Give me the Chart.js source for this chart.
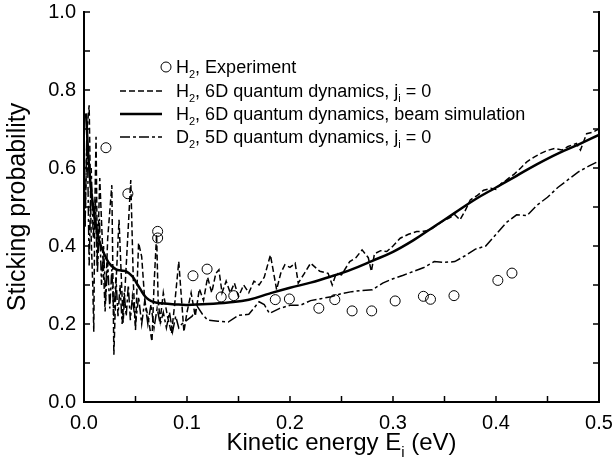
<!DOCTYPE html>
<html>
<head>
<meta charset="utf-8">
<script src="https://cdn.jsdelivr.net/npm/chart.js@4.4.1/dist/chart.umd.min.js"></script>
<style>
  body { margin: 0; background: #fff; }
  canvas { display: block; }
</style>
</head>
<body>
<canvas id="stickChart" width="614" height="463"></canvas>
<script>
// H2, experiment
var expE = [0.0213, 0.0426, 0.0715, 0.0715, 0.1058, 0.1195, 0.1332, 0.1454, 0.1857, 0.1994,
            0.228, 0.2435, 0.2603, 0.2793, 0.3021, 0.3295, 0.3364, 0.3592, 0.4018, 0.4155];
var expP = [0.652, 0.534, 0.4375, 0.4206, 0.3237, 0.3407, 0.2693, 0.2727, 0.2625, 0.2642,
            0.2404, 0.2625, 0.2336, 0.2336, 0.2591, 0.2710, 0.2634, 0.2727, 0.3118, 0.3305];

// H2, 6D quantum dynamics, j=0 (dashed)
var qdE = [0.001, 0.003, 0.005, 0.007, 0.0085, 0.0095, 0.0105, 0.0117, 0.013, 0.0153,
           0.018, 0.0205, 0.023, 0.027, 0.029, 0.031, 0.034, 0.038, 0.041, 0.0454,
           0.048, 0.050, 0.053, 0.056, 0.059, 0.062, 0.066, 0.068, 0.0705, 0.072,
           0.074, 0.077, 0.081, 0.085, 0.088, 0.092, 0.097, 0.1, 0.104, 0.108,
           0.112, 0.116, 0.12, 0.124, 0.128, 0.131, 0.134, 0.138, 0.142, 0.146,
           0.15, 0.155, 0.16, 0.165, 0.17, 0.175, 0.181, 0.187, 0.191, 0.195,
           0.2, 0.205, 0.208, 0.214, 0.22, 0.229, 0.237, 0.241, 0.245, 0.25,
           0.258, 0.264, 0.27, 0.276, 0.279, 0.282, 0.288, 0.294, 0.3, 0.307,
           0.315, 0.323, 0.33, 0.336, 0.343, 0.349, 0.354, 0.36, 0.365, 0.37,
           0.375, 0.382, 0.388, 0.395, 0.4, 0.405, 0.41, 0.418, 0.424, 0.43,
           0.437, 0.443, 0.45, 0.457, 0.464, 0.47, 0.478, 0.482, 0.488, 0.494, 0.5];
var qdP = [0.45, 0.70, 0.761, 0.42, 0.30, 0.18, 0.50, 0.68, 0.35, 0.574,
           0.40, 0.232, 0.42, 0.556, 0.121, 0.30, 0.467, 0.203, 0.35, 0.569,
           0.30, 0.185, 0.408, 0.373, 0.26, 0.22, 0.155, 0.30, 0.43, 0.26,
           0.21, 0.28, 0.22, 0.176, 0.25, 0.36, 0.18, 0.23, 0.28, 0.22,
           0.29, 0.26, 0.32, 0.28, 0.33, 0.339, 0.28, 0.31, 0.28, 0.305,
           0.27, 0.30, 0.28, 0.31, 0.30, 0.32, 0.377, 0.288, 0.33, 0.352,
           0.345, 0.356, 0.305, 0.33, 0.356, 0.335, 0.33, 0.30, 0.33, 0.326,
           0.36, 0.37, 0.39, 0.37, 0.335, 0.38, 0.388, 0.386, 0.40, 0.42,
           0.43, 0.437, 0.438, 0.441, 0.454, 0.465, 0.471, 0.48, 0.467, 0.49,
           0.518, 0.53, 0.543, 0.548, 0.545, 0.56, 0.569, 0.585, 0.60, 0.616,
           0.628, 0.637, 0.645, 0.65, 0.646, 0.655, 0.663, 0.646, 0.688, 0.692, 0.70];

// H2, 6D quantum dynamics, beam simulation (solid)
var beamE = [0.002, 0.005, 0.008, 0.011, 0.014, 0.018, 0.024, 0.031, 0.036, 0.041,
             0.047, 0.051, 0.055, 0.059, 0.063, 0.068, 0.075, 0.09, 0.1, 0.12,
             0.14, 0.16, 0.18, 0.2, 0.22, 0.24, 0.26, 0.28, 0.3, 0.32,
             0.34, 0.36, 0.38, 0.4, 0.42, 0.44, 0.46, 0.48, 0.5];
var beamP = [0.74, 0.60, 0.52, 0.46, 0.42, 0.39, 0.357, 0.34, 0.337, 0.335,
             0.322, 0.305, 0.288, 0.272, 0.262, 0.256, 0.253, 0.25, 0.249, 0.251,
             0.255, 0.262, 0.278, 0.293, 0.306, 0.322, 0.34, 0.362, 0.385, 0.415,
             0.45, 0.485, 0.52, 0.55, 0.58, 0.61, 0.637, 0.66, 0.685];

// D2, 5D quantum dynamics, j=0 (dash-dot)
var d2E = [0.001, 0.003, 0.005, 0.007, 0.009, 0.011, 0.013, 0.015, 0.017, 0.019,
           0.021, 0.023, 0.025, 0.027, 0.029, 0.031, 0.033, 0.035, 0.037, 0.039,
           0.041, 0.043, 0.045, 0.047, 0.05, 0.053, 0.056, 0.059, 0.062, 0.065,
           0.068, 0.071, 0.074, 0.077, 0.08, 0.083, 0.086, 0.089, 0.092, 0.095,
           0.1, 0.105, 0.11, 0.115, 0.12, 0.13, 0.14, 0.15, 0.16, 0.17,
           0.175, 0.18, 0.19, 0.2, 0.21, 0.22, 0.23, 0.24, 0.25, 0.26,
           0.27, 0.28, 0.29, 0.3, 0.31, 0.32, 0.33, 0.34, 0.35, 0.36,
           0.37, 0.38, 0.39, 0.4, 0.41, 0.42, 0.43, 0.44, 0.45, 0.46,
           0.47, 0.48, 0.49, 0.5];
var d2P = [0.45, 0.72, 0.35, 0.60, 0.42, 0.52, 0.33, 0.47, 0.30, 0.40,
           0.26, 0.36, 0.24, 0.34, 0.22, 0.32, 0.22, 0.30, 0.20, 0.28,
           0.22, 0.30, 0.21, 0.27, 0.20, 0.27, 0.20, 0.26, 0.20, 0.25,
           0.19, 0.24, 0.20, 0.23, 0.19, 0.23, 0.18, 0.22, 0.19, 0.20,
           0.21, 0.22, 0.245, 0.225, 0.21, 0.207, 0.205, 0.222, 0.225, 0.257,
           0.25, 0.227, 0.24, 0.248, 0.248, 0.26, 0.265, 0.27, 0.278, 0.283,
           0.286, 0.288, 0.305, 0.316, 0.325, 0.335, 0.345, 0.36, 0.358, 0.36,
           0.375, 0.392, 0.40, 0.43, 0.46, 0.48, 0.478, 0.505, 0.525, 0.55,
           0.57, 0.59, 0.605, 0.618];

var xTicks = [0, 0.1, 0.2, 0.3, 0.4, 0.5];
var yTicks = [0, 0.2, 0.4, 0.6, 0.8, 1.0];

function pts(xs, ys) {
    return xs.map(function (x, i) { return { x: x, y: ys[i] }; });
}

var FONT = '"Liberation Sans", Arial, Helvetica, sans-serif';

// draw text with subscript pieces: parts = [[text, isSub], ...]
function richText(ctx, parts, x, y, size) {
    var cx = x;
    parts.forEach(function (p) {
        if (p[1]) {
            ctx.font = Math.round(size * 0.62) + 'px ' + FONT;
            ctx.fillText(p[0], cx, y + size * 0.28);
        } else {
            ctx.font = size + 'px ' + FONT;
            ctx.fillText(p[0], cx, y);
        }
        cx += ctx.measureText(p[0]).width;
    });
    return cx - x;
}
function richWidth(ctx, parts, size) {
    var w = 0;
    parts.forEach(function (p) {
        ctx.font = (p[1] ? Math.round(size * 0.62) : size) + 'px ' + FONT;
        w += ctx.measureText(p[0]).width;
    });
    return w;
}

var decorations = {
    id: 'decorations',
    afterDraw: function (chart) {
        var ctx = chart.ctx;
        var a = chart.chartArea;
        var xs = chart.scales.x, ys = chart.scales.y;
        ctx.save();
        ctx.strokeStyle = '#000';
        ctx.fillStyle = '#000';
        ctx.lineWidth = 1.5;
        // inward ticks
        ctx.beginPath();
        for (var i = 0; i <= 10; i++) {
            var px = xs.getPixelForValue(i * 0.05);
            ctx.moveTo(px, a.bottom);
            ctx.lineTo(px, a.bottom - 6);
        }
        for (var j = 0; j <= 10; j++) {
            var py = ys.getPixelForValue(j * 0.1);
            ctx.moveTo(a.left, py);
            ctx.lineTo(a.left + 6, py);
            ctx.moveTo(a.right, py);
            ctx.lineTo(a.right - 6, py);
        }
        ctx.stroke();

        // axis titles
        ctx.textBaseline = 'alphabetic';
        ctx.textAlign = 'left';
        var xt = [['Kinetic energy E', false], ['i', true], [' (eV)', false]];
        var w = richWidth(ctx, xt, 24);
        richText(ctx, xt, (a.left + a.right) / 2 - w / 2, 450, 24);

        ctx.save();
        ctx.translate(25, (a.top + a.bottom) / 2);
        ctx.rotate(-Math.PI / 2);
        ctx.font = '25px ' + FONT;
        ctx.textAlign = 'center';
        ctx.fillText('Sticking probability', 0, 0);
        ctx.restore();

        // legend
        var rows = [
            { y: 67, kind: 'circle', text: [['H', false], ['2', true], [', Experiment', false]] },
            { y: 91, kind: [6, 3], lw: 1.5, text: [['H', false], ['2', true], [', 6D quantum dynamics, j', false], ['i', true], [' = 0', false]] },
            { y: 114, kind: [], lw: 2.5, text: [['H', false], ['2', true], [', 6D quantum dynamics, beam simulation', false]] },
            { y: 137, kind: [10, 3, 3, 3], lw: 1.5, text: [['D', false], ['2', true], [', 5D quantum dynamics, j', false], ['i', true], [' = 0', false]] }
        ];
        rows.forEach(function (r) {
            if (r.kind === 'circle') {
                ctx.lineWidth = 1;
                ctx.setLineDash([]);
                ctx.beginPath();
                ctx.arc(166, r.y, 5, 0, Math.PI * 2);
                ctx.stroke();
            } else {
                ctx.lineWidth = r.lw;
                ctx.setLineDash(r.kind);
                ctx.beginPath();
                ctx.moveTo(120, r.y);
                ctx.lineTo(162, r.y);
                ctx.stroke();
            }
            ctx.setLineDash([]);
            richText(ctx, r.text, 176, r.y + 6, 18);
        });
        ctx.restore();
    }
};

var ctx = document.getElementById('stickChart').getContext('2d');
var stickChart = new Chart(ctx, {
    type: 'line',
    data: {
        datasets: [
            {
                label: 'H2, Experiment',
                data: pts(expE, expP),
                showLine: false,
                pointStyle: 'circle',
                pointRadius: 5,
                pointBorderWidth: 1,
                pointBorderColor: '#000',
                pointBackgroundColor: 'rgba(0,0,0,0)'
            },
            {
                label: 'H2, 6D quantum dynamics, beam simulation',
                data: pts(beamE, beamP),
                borderColor: '#000',
                borderWidth: 2.5,
                pointRadius: 0,
                tension: 0.4
            },
            {
                label: 'H2, 6D quantum dynamics, ji = 0',
                data: pts(qdE, qdP),
                borderColor: '#000',
                borderWidth: 1.5,
                borderDash: [6, 3],
                pointRadius: 0,
                tension: 0
            },
            {
                label: 'D2, 5D quantum dynamics, ji = 0',
                data: pts(d2E, d2P),
                borderColor: '#000',
                borderWidth: 1.5,
                borderDash: [10, 3, 3, 3],
                pointRadius: 0,
                tension: 0
            }
        ]
    },
    options: {
        responsive: false,
        animation: false,
        layout: { padding: { top: 12, left: 0, right: 0, bottom: 0 } },
        plugins: { legend: { display: false }, tooltip: { enabled: false } },
        scales: {
            x: {
                type: 'linear', min: 0, max: 0.5,
                afterFit: function (s) { s.height = 61; s.paddingLeft = 0; s.paddingRight = 0; },
                afterBuildTicks: function (s) { s.ticks = xTicks.map(function (v) { return { value: v }; }); },
                ticks: { color: '#000', font: { size: 20, family: FONT }, padding: 9, maxRotation: 0,
                         callback: function (v) { return v.toFixed(1); } },
                grid: { display: false, drawTicks: false },
                border: { color: '#000', width: 2 }
            },
            y: {
                min: 0, max: 1,
                afterFit: function (s) { s.width = 84; s.paddingTop = 0; s.paddingBottom = 0; },
                afterBuildTicks: function (s) { s.ticks = yTicks.map(function (v) { return { value: v }; }); },
                ticks: { color: '#000', font: { size: 20, family: FONT }, padding: 8,
                         callback: function (v) { return v.toFixed(1); } },
                grid: { display: false, drawTicks: false },
                border: { color: '#000', width: 2 }
            },
            y2: {
                position: 'right', min: 0, max: 1,
                afterFit: function (s) { s.width = 15; s.paddingTop = 0; s.paddingBottom = 0; },
                ticks: { display: false },
                grid: { display: false, drawTicks: false },
                border: { color: '#000', width: 2 }
            }
        }
    },
    plugins: [decorations]
});
</script>
</body>
</html>
